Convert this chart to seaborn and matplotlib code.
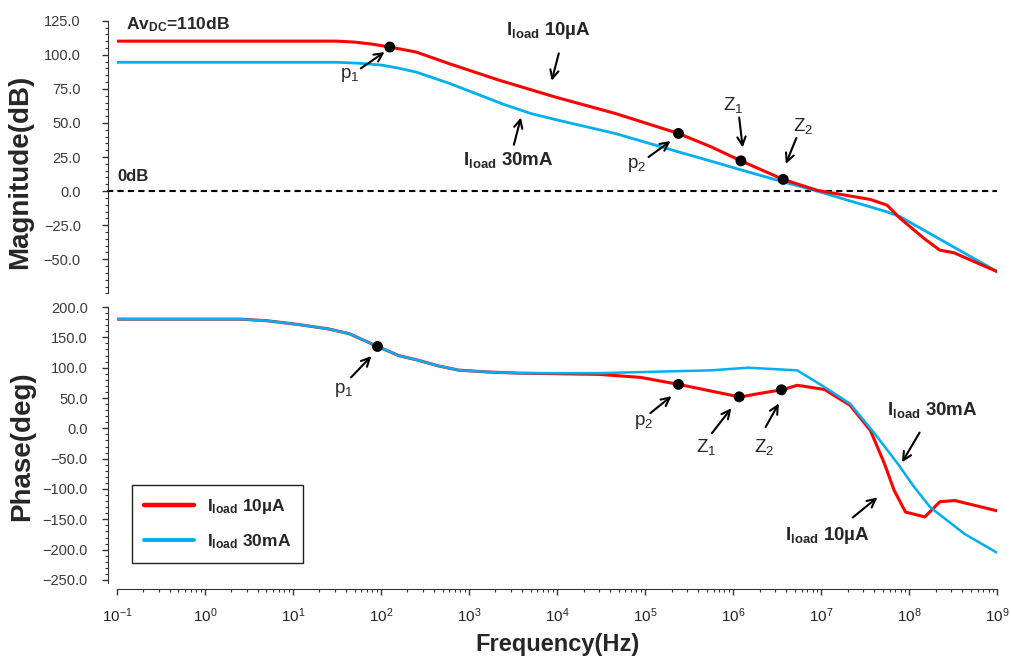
import numpy as np
import pandas as pd
import seaborn as sns
import matplotlib.pyplot as plt
from matplotlib.ticker import LogLocator, MultipleLocator, FuncFormatter

# values, frequencies stored as log10(Hz)
mag_logf_10u = [-1.0, 1.50, 1.70, 1.90, 2.09, 2.40, 2.77, 3.34, 3.98, 4.66, 5.38, 5.75,
                6.09, 6.57, 6.96, 7.56, 7.75, 7.90, 8.17, 8.35, 8.51, 9.0]
mag_10u = [110, 110, 109.3, 107.8, 105.8, 102, 93.6, 81.4, 69, 57, 42.3, 32.5,
           22.2, 8.6, 0.5, -6.1, -10.3, -20, -34.7, -43.3, -45.2, -59]
mag_logf_30m = [-1.0, 1.49, 1.75, 2.01, 2.20, 2.40, 2.77, 3.14, 3.40, 3.70, 3.98, 4.66,
                5.38, 5.75, 6.09, 6.57, 6.93, 7.75, 7.90, 9.0]
mag_30m = [94.5, 94.5, 93.8, 92.4, 90.2, 87.3, 79.2, 70, 63.5, 57, 52.5, 42.3,
           28.8, 22, 15.6, 6.8, 0.5, -15.2, -18.8, -59]

# phase: both loads follow the same curve up to ~10^3.5 Hz
ph_logf_low = [-1.0, 0.40, 0.70, 1.07, 1.40, 1.64, 1.96, 2.20, 2.43, 2.65, 2.88, 3.20, 3.56]
ph_low = [180, 180, 177.5, 171, 164, 156, 135, 120, 112, 103, 96, 93, 91]
ph_logf_10u = [4.47, 4.95, 5.38, 5.60, 6.08, 6.28, 6.57, 6.73, 7.04, 7.33, 7.56,
               7.72, 7.83, 7.96, 8.18, 8.35, 8.52, 9.0]
ph_10u = [89, 84, 72.5, 66, 51.6, 57, 64, 71, 64, 38, -3.3,
          -58, -102, -138, -146, -121, -119, -136]
ph_logf_30m = [4.47, 5.75, 6.17, 6.73, 7.04, 7.33, 7.61, 7.87, 8.06, 8.24, 8.63, 9.0]
ph_30m = [91, 95.6, 100, 95.6, 68, 40.7, -8.8, -58, -97, -130, -174, -205]

# poles / zeros marked on the 10uA curves
mag_marks_logf = [2.10, 5.38, 6.09, 6.57]
ph_marks_logf = [1.96, 5.38, 6.07, 6.55]

RED = '#ff0000'
BLUE = '#00aff0'
LBL_10U = r'$\mathbf{I}_{\mathbf{load}}$ 10µA'
LBL_30M = r'$\mathbf{I}_{\mathbf{load}}$ 30mA'

sns.set_style('ticks')
plt.rcParams['font.family'] = ['Liberation Sans', 'DejaVu Sans']
plt.rcParams['mathtext.fontset'] = 'custom'
plt.rcParams['mathtext.rm'] = 'Liberation Sans'
plt.rcParams['mathtext.it'] = 'Liberation Sans:italic'
plt.rcParams['mathtext.bf'] = 'Liberation Sans:bold'


def curve(logf, vals):
    return pd.DataFrame({'freq': 10 ** np.array(logf, dtype=float), 'val': vals})


def note(ax, text, txt, tail, tip, **kw):
    ax.annotate('', xy=(10 ** tip[0], tip[1]), xytext=(10 ** tail[0], tail[1]),
                arrowprops=dict(arrowstyle='->', lw=1.5, color='k',
                                shrinkA=0, shrinkB=0, mutation_scale=15))
    ax.text(10 ** txt[0], txt[1], text, ha='center', va='center',
            fontsize=kw.pop('size', 13.5), **kw)


fig = plt.figure(figsize=(10.11, 6.59), dpi=100)
ax1 = fig.add_axes([0.1157, 0.5548, 0.8705, 0.4138])
ax2 = fig.add_axes([0.1157, 0.1153, 0.8705, 0.4188], sharex=ax1)

for ax in (ax1, ax2):
    ax.set_xscale('log')

# magnitude
sns.lineplot(data=curve(mag_logf_30m, mag_30m), x='freq', y='val', color=BLUE,
             linewidth=2.0, ax=ax1)
sns.lineplot(data=curve(mag_logf_10u, mag_10u), x='freq', y='val', color=RED,
             linewidth=2.2, ax=ax1)
mk = 10 ** np.array(mag_marks_logf)
sns.scatterplot(x=mk, y=np.interp(mag_marks_logf, mag_logf_10u, mag_10u),
                color='k', s=62, edgecolor='none', zorder=5, ax=ax1)
ax1.axhline(0, xmin=-0.011, xmax=1, color='k', lw=1.5, ls=(0, (3, 2)),
            clip_on=False, zorder=1)

# phase
sns.lineplot(data=curve(ph_logf_low + ph_logf_10u, ph_low + ph_10u), x='freq',
             y='val', color=RED, linewidth=2.2, label=LBL_10U, ax=ax2)
sns.lineplot(data=curve(ph_logf_low + ph_logf_30m, ph_low + ph_30m), x='freq',
             y='val', color=BLUE, linewidth=1.8, label=LBL_30M, ax=ax2)
mk = 10 ** np.array(ph_marks_logf)
sns.scatterplot(x=mk, y=np.interp(ph_marks_logf, ph_logf_low + ph_logf_10u,
                                  ph_low + ph_10u),
                color='k', s=62, edgecolor='none', zorder=5, ax=ax2)

# axes styling
minus = FuncFormatter(lambda v, p: ('%.1f' % v).replace('-', '\u2212'))
ax1.set_xlim(0.1, 1e9)
ax1.set_ylim(-75, 125)
ax1.set_yticks(np.arange(-50, 126, 25))
ax1.yaxis.set_minor_locator(MultipleLocator(5))
ax2.set_ylim(-255, 200)
ax2.set_yticks(np.arange(-250, 201, 50))
ax2.yaxis.set_minor_locator(MultipleLocator(10))
ax2.xaxis.set_major_locator(LogLocator(base=10, numticks=20))
ax2.xaxis.set_minor_locator(LogLocator(base=10, subs=np.arange(2, 10), numticks=20))

for ax, pad in ((ax1, 15), (ax2, 10)):
    ax.yaxis.set_major_formatter(minus)
    for s in ('top', 'right'):
        ax.spines[s].set_visible(False)
    ax.spines['left'].set_position(('outward', 6.5))
    ax.spines['left'].set_color('#333333')
    ax.tick_params(axis='y', which='major', direction='out', length=4.5, width=1,
                   labelsize=10.5, labelcolor='#3a3a3a', color='#333333', pad=pad)
    ax.tick_params(axis='y', which='minor', direction='out', length=2.5, width=0.8,
                   color='#333333')
    ax.set_xlabel('')

ax1.spines['bottom'].set_visible(False)
ax1.tick_params(axis='x', which='both', bottom=False, labelbottom=False)
ax2.spines['bottom'].set_position(('outward', 4.3))
ax2.spines['bottom'].set_color('#333333')
ax2.tick_params(axis='x', which='major', direction='out', length=4.5, width=1,
                labelsize=11, labelcolor='#222222', color='#333333', pad=8)
ax2.tick_params(axis='x', which='minor', direction='out', length=2.5, width=0.8,
                color='#333333')

ax1.set_ylabel('Magnitude(dB)', fontsize=20, fontweight='bold')
ax1.yaxis.set_label_coords(-0.095, 0.445)
ax2.set_ylabel('Phase(deg)', fontsize=20, fontweight='bold')
ax2.yaxis.set_label_coords(-0.093, 0.496)
ax2.set_xlabel('Frequency(Hz)', fontsize=17, fontweight='bold', labelpad=6)

leg = ax2.legend(loc='upper left', bbox_to_anchor=(0.017, 0.355), frameon=True,
                 fancybox=False, edgecolor='#222222', framealpha=1,
                 prop={'weight': 'bold', 'size': 12.5}, handlelength=2.9,
                 handletextpad=0.7, labelspacing=0.9, borderpad=0.7,
                 borderaxespad=0)
leg.get_frame().set_linewidth(1.0)
for line, lw in zip(leg.get_lines(), (3.2, 2.8)):
    line.set_linewidth(lw)

# magnitude annotations
ax1.text(10 ** -0.90, 122, r'Av$_{\mathbf{DC}}$=110dB', fontsize=12.5,
         fontweight='bold', ha='left', va='center')
ax1.text(10 ** -1.0, 11, '0dB', fontsize=12, fontweight='bold', ha='left',
         va='center')
note(ax1, r'p$_1$', (1.64, 85), (1.77, 90), (2.04, 102))
note(ax1, r'p$_2$', (4.90, 19), (5.04, 25), (5.29, 36.7))
note(ax1, r'Z$_1$', (6.00, 63), (6.07, 54), (6.11, 32))
note(ax1, r'Z$_2$', (6.80, 48), (6.72, 39), (6.60, 20))
note(ax1, LBL_10U, (3.90, 118), (4.02, 101), (3.94, 81), fontweight='bold')
note(ax1, LBL_30M, (3.45, 23), (3.51, 34), (3.59, 54), fontweight='bold')

# phase annotations
note(ax2, r'p$_1$', (1.58, 63), (1.66, 84), (1.89, 119))
note(ax2, r'p$_2$', (4.98, 10), (5.06, 25), (5.30, 53))
note(ax2, r'Z$_1$', (5.69, -30), (5.76, -8), (5.98, 33))
note(ax2, r'Z$_2$', (6.35, -30), (6.37, 2), (6.52, 41))
note(ax2, LBL_30M, (8.26, 30), (8.12, -7), (7.92, -56), fontweight='bold')
note(ax2, LBL_10U, (7.07, -176), (7.36, -147), (7.64, -114), fontweight='bold')

fig.savefig('out.png', dpi=100)
